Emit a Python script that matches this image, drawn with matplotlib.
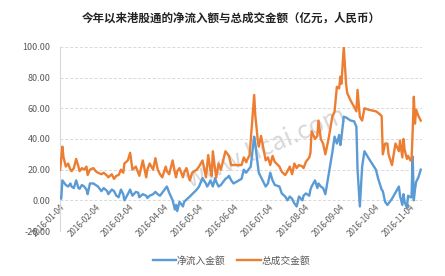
import matplotlib
matplotlib.use("Agg")
import matplotlib.pyplot as plt
import pandas as pd

plt.rcParams["font.family"] = ["Noto Sans CJK SC", "DejaVu Sans"]

TITLE = "今年以来港股通的净流入额与总成交金额（亿元，人民币）"
NET_LABEL = "净流入金额"
TOTAL_LABEL = "总成交金额"

DATES = [
    "2016-01-04", "2016-01-05", "2016-01-06", "2016-01-07", "2016-01-09",
    "2016-01-11", "2016-01-13", "2016-01-14", "2016-01-16", "2016-01-18",
    "2016-01-20", "2016-01-21", "2016-01-23", "2016-01-25", "2016-01-27",
    "2016-01-28", "2016-01-30", "2016-02-02", "2016-02-04", "2016-02-06",
    "2016-02-09", "2016-02-11", "2016-02-14", "2016-02-15", "2016-02-18",
    "2016-02-20", "2016-02-22", "2016-02-24", "2016-02-26", "2016-02-28",
    "2016-02-29", "2016-03-03", "2016-03-05", "2016-03-07", "2016-03-10",
    "2016-03-12", "2016-03-13", "2016-03-16", "2016-03-19", "2016-03-20",
    "2016-03-22", "2016-03-25", "2016-03-27", "2016-03-29", "2016-03-31",
    "2016-04-02", "2016-04-05", "2016-04-06", "2016-04-08", "2016-04-11",
    "2016-04-13", "2016-04-14", "2016-04-15", "2016-04-17", "2016-04-20",
    "2016-04-21", "2016-04-23", "2016-04-26", "2016-04-28", "2016-05-02",
    "2016-05-04", "2016-05-07", "2016-05-10", "2016-05-11", "2016-05-12",
    "2016-05-14", "2016-05-15", "2016-05-16", "2016-05-18", "2016-05-19",
    "2016-05-21", "2016-05-23", "2016-05-27", "2016-05-29", "2016-05-30",
    "2016-06-01", "2016-06-03", "2016-06-10", "2016-06-12", "2016-06-14",
    "2016-06-17", "2016-06-18", "2016-06-21", "2016-06-22", "2016-06-23",
    "2016-06-24", "2016-06-25", "2016-06-27", "2016-06-29", "2016-07-01",
    "2016-07-03", "2016-07-05", "2016-07-07", "2016-07-09", "2016-07-13",
    "2016-07-15", "2016-07-18", "2016-07-20", "2016-07-22", "2016-07-24",
    "2016-07-26", "2016-07-28", "2016-07-30", "2016-08-02", "2016-08-03",
    "2016-08-05", "2016-08-08", "2016-08-09", "2016-08-10", "2016-08-13",
    "2016-08-15", "2016-08-16", "2016-08-18", "2016-08-20", "2016-08-22",
    "2016-08-25", "2016-08-28", "2016-08-30", "2016-09-01", "2016-09-03",
    "2016-09-04", "2016-09-05", "2016-09-07", "2016-09-09", "2016-09-10",
    "2016-09-13", "2016-09-16", "2016-09-18", "2016-09-19", "2016-09-21",
    "2016-09-23", "2016-09-25", "2016-09-29", "2016-10-05", "2016-10-07",
    "2016-10-10", "2016-10-11", "2016-10-13", "2016-10-15", "2016-10-16",
    "2016-10-19", "2016-10-22", "2016-10-25", "2016-10-26", "2016-10-28",
    "2016-10-29", "2016-10-30", "2016-11-01", "2016-11-02", "2016-11-04",
    "2016-11-05", "2016-11-06", "2016-11-07", "2016-11-08", "2016-11-09",
    "2016-11-11", "2016-11-13",
]

TOTAL = [
    20, 27, 35, 28, 22, 24, 20, 19, 21, 27,
    22, 19, 21, 20, 22, 16.5, 20, 21, 19, 18,
    17, 18, 16, 15, 17, 14, 16, 16.5, 20, 18,
    24, 26, 31, 20, 22, 18, 16, 26, 15, 20,
    24, 20, 27.5, 20, 17, 15, 22, 19, 17, 26,
    18, 15, 19, 21, 15, 18, 21, 13, 18, 20,
    22, 26, 15, 22, 29.5, 19, 16, 32, 20, 15,
    24, 20, 32, 30, 29, 23, 23, 23, 28, 25,
    29.5, 39, 68.7, 55, 48, 40, 35, 42, 34, 26,
    28, 23, 29, 25, 22, 18.7, 16.5, 19, 22, 17,
    24, 21, 23, 22, 21, 25, 28, 31, 45, 40,
    42, 52, 40, 37, 30, 41, 54.5, 58, 74, 73,
    80.6, 76, 100, 76, 70, 65, 61, 58, 72, 54.5,
    52, 60, 59, 58, 57, 55, 30, 37, 37, 30,
    23, 37, 32, 39, 28, 40, 33, 27, 29, 26,
    26, 45, 67.5, 50, 59, 55, 52,
]

NET = [
    2, 1, 13, 12, 10, 9, 11, 9, 8, 13,
    8, 7.5, 10, 9, 7, 4, 11, 11, 10, 9,
    6, 8, 6, 4, 7, 6, 3, 2, 7, 4,
    0, 4, 7, 3, 5.5, 5, 2, 4, 3, 1.5,
    3, 4, 5.5, 4, 3, 5, 8, 9, 5, 0,
    -6, -3, -7, -1, -4, -1, 0.5, 2.5, 4, 7,
    9, 14.5, 11, 9, 10, 13, 11, 9, 14.5, 12,
    9, 10, 14, 15, 16, 13, 11, 14, 20, 18,
    21, 22, 41.5, 37, 30, 24, 18, 15, 12, 9,
    11, 18, 13, 10, 9, 4.5, 2.5, 0, 2.5, 1,
    -2, -4, 2.5, 0, 3, 4.5, 3, 7, 9, 13,
    8, 11, 9, 8, 4, 17.6, 31, 41.5, 37, 42.6,
    36, 41, 54.5, 54, 53.5, 52, 51.5, 48, 20, -4,
    22, 32, 27, 20, 14, 7, 6, -1, -3, -2,
    1, 5, 9, 3, -3, 4, -1, -5, 3, 2,
    2, 28.5, 0, 7, 12, 15, 20,
]

TICK_DATES = [
    "2016-01-04", "2016-02-04", "2016-03-04", "2016-04-04", "2016-05-04",
    "2016-06-04", "2016-07-04", "2016-08-04", "2016-09-04", "2016-10-04",
    "2016-11-04",
]

Y_TICKS = [-20, 0, 20, 40, 60, 80, 100]

BLUE = "#5b9bd5"
ORANGE = "#ed7d31"
TEXT_COLOR = "#595959"


def plot_chart():
    dates = pd.to_datetime(DATES)
    ticks = pd.to_datetime(TICK_DATES)

    fig = plt.figure(figsize=(4.45, 2.76), dpi=100)
    ax = fig.add_axes([0.135, 0.163, 0.813, 0.667])

    # category axis crosses at zero, so the date labels sit just under it
    # (set first: moving the spine resets the tick labels)
    ax.spines["bottom"].set_position(("data", 0))
    ax.spines["bottom"].set_visible(False)
    for side in ["top", "right"]:
        ax.spines[side].set_visible(False)
    ax.spines["left"].set_color("#d9d9d9")

    # faint watermark behind the lines
    ax.text(0.57, 0.45, "www.licai.com", transform=ax.transAxes,
            fontsize=18, color="#b8b8b8", alpha=0.55, rotation=23,
            ha="center", va="center", zorder=0)

    ax.plot(dates, NET, color=BLUE, linewidth=1.7, label=NET_LABEL, zorder=3)
    ax.plot(dates, TOTAL, color=ORANGE, linewidth=1.7, label=TOTAL_LABEL, zorder=3)

    ax.set_ylim(-20, 100)
    ax.set_yticks(Y_TICKS)
    ax.yaxis.set_major_formatter(plt.FormatStrFormatter("%.2f"))
    ax.set_xlim(ticks[0], pd.Timestamp("2016-11-14"))
    ax.set_xticks(ticks)
    ax.set_xticklabels(TICK_DATES, rotation=45, ha="right",
                       rotation_mode="anchor")

    ax.grid(axis="y", color="#d9d9d9", linestyle=(0, (3, 2)), linewidth=0.7)
    ax.set_axisbelow(True)
    ax.tick_params(axis="y", length=0, labelsize=6.5, colors=TEXT_COLOR,
                   pad=7)
    ax.tick_params(axis="x", length=0, labelsize=5.8, colors=TEXT_COLOR,
                   pad=2)

    fig.text(0.52, 0.935, TITLE, ha="center", va="center", fontsize=8.3,
             fontweight="bold", color="#222222")

    fig.legend(loc="center", bbox_to_anchor=(0.52, 0.055), ncol=2,
               frameon=False, fontsize=7, handlelength=2.4,
               columnspacing=1.2, handletextpad=0.1, labelcolor=TEXT_COLOR)

    plt.savefig("out.png", dpi=100)
    plt.close()


if __name__ == "__main__":
    plot_chart()
